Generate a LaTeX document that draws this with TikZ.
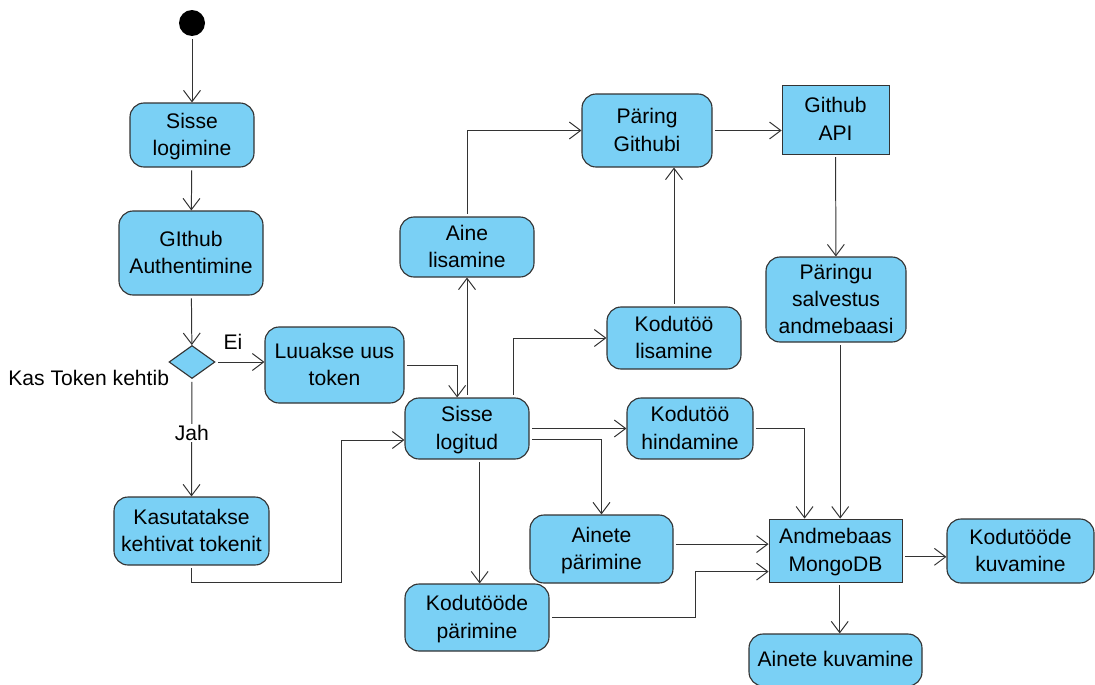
\documentclass[tikz,border=0pt]{standalone}
\usepackage{fontspec}
\setmainfont{Liberation Sans}
\usepackage{xcolor}
\usetikzlibrary{arrows.meta,calc,positioning,shapes.geometric}

\definecolor{actblue}{RGB}{122,208,245}
\definecolor{edgegray}{RGB}{51,51,51}

\begin{document}
\begin{tikzpicture}[x=0.025cm,y=-0.025cm,font=\fontsize{15}{19.5}\selectfont]

\tikzset{wh/.style 2 args={minimum width=#1*0.025cm, minimum height=#2*0.025cm},
act/.style={draw=edgegray, fill=actblue, rounded corners=10pt, line width=0.8pt, align=center, inner sep=1pt, text depth=1pt},
box/.style={act, rounded corners=0pt, line width=0.6pt},
flow/.style={draw=edgegray, line width=0.7pt, -{Straight Barb[length=8pt,width=12pt]}, shorten <=2pt}}

\useasboundingbox (0,0) rectangle (1095,684);

% login part
\node[circle, fill=black, inner sep=0pt, wh={26}{26}] (start) at (192,23) {};
\node[act, wh={124}{64}] (login) at (192,135) {Sisse\\logimine};
\node[act, wh={144}{84}] (auth) at (191,253) {GIthub\\Authentimine};
\node[diamond, draw=edgegray, fill=actblue, line width=0.8pt, inner sep=0pt, wh={46}{33}] (dec) at (192,362) {};
\node[anchor=east] (kas) at (174,378) {Kas Token kehtib};
\node (ei) at (233,342) {Ei};
\node[act, wh={139}{76}] (newtok) at (334.5,365) {Luuakse uus\\token};
\node[act, wh={155}{68}] (oldtok) at (191.5,531) {Kasutatakse\\kehtivat tokenit};

% logged in
\node[act, wh={124}{61}] (logged) at (467,428.5) {Sisse\\logitud};
\node[act, wh={134}{60}] (addsub) at (467,247) {Aine\\lisamine};
\node[act, wh={130}{73}] (query) at (647,130.5) {Päring\\Githubi};
\node[box, wh={107}{69}] (api) at (835.5,119.5) {Github\\API};
\node[act, wh={140}{85}] (save) at (836,299.5) {Päringu\\salvestus\\andmebaasi};
\node[act, wh={134}{62}] (addhw) at (674,338) {Kodutöö\\lisamine};
\node[act, wh={126}{61}] (gradehw) at (690,428.5) {Kodutöö\\hindamine};
\node[act, wh={143}{68}] (getsub) at (601.5,549) {Ainete\\pärimine};
\node[act, wh={144}{67}] (gethw) at (477,617.5) {Kodutööde\\pärimine};
\node[box, wh={133}{63}] (db) at (835.5,550.5) {Andmebaas\\MongoDB};
\node[act, wh={147}{64}] (showhw) at (1020.5,551) {Kodutööde\\kuvamine};
\node[act, wh={173}{52}] (showsub) at (835.5,660) {Ainete kuvamine};

\coordinate (tokbend) at (341,440);
\coordinate (gethwbend) at (695,617.5);

\draw[flow] (start) -- (login);
\draw[flow] (login) -- (auth);
\draw[flow] (auth) -- (dec);
\draw[flow] (dec.east) -- (dec.east -| newtok.west);
\draw[flow] (dec.south) -- node[fill=white, inner sep=1pt, pos=0.46] (jah) {Jah} (oldtok.north);
\draw[flow] (newtok.east) -| ([xshift=-7pt]logged.north);
\draw[flow] (oldtok.south) -- ++(0,17) -| (tokbend) -- (tokbend -| logged.west);

\draw[flow] (logged) -- (addsub);
\draw[flow] (addsub.north) |- (query.west);
\draw[flow] ([xshift=33pt]logged.north) |- (addhw.west);
\draw[flow] (addhw.north) -- (addhw.north |- query.south);
\draw[flow] (query.east) -- (query.east -| api.west);
\draw[flow] (api) -- (save);
\draw[flow] ([xshift=3pt]save.south) -- ([xshift=3pt]save.south |- db.north);

\draw[flow] (logged.east) -- (gradehw.west);
\draw[flow] ([yshift=-8pt]logged.east) -| (getsub.north);
\draw[flow] ([xshift=9pt]logged.south) -- ([xshift=9pt]logged.south |- gethw.north);
\draw[flow] (gradehw.east) -| ([xshift=-22pt]db.north);
\draw[flow] ([yshift=3.5pt]getsub.east) -- ([yshift=3.5pt]getsub.east -| db.west);
\draw[flow] (gethw.east) -- (gethwbend) |- ([yshift=-15pt]db.west);
\draw[flow] ([yshift=-4.5pt]db.east) -- ([yshift=-4.5pt]db.east -| showhw.west);
\draw[flow] ([xshift=3pt]db.south) -- ([xshift=3pt]db.south |- showsub.north);

\end{tikzpicture}
\end{document}
